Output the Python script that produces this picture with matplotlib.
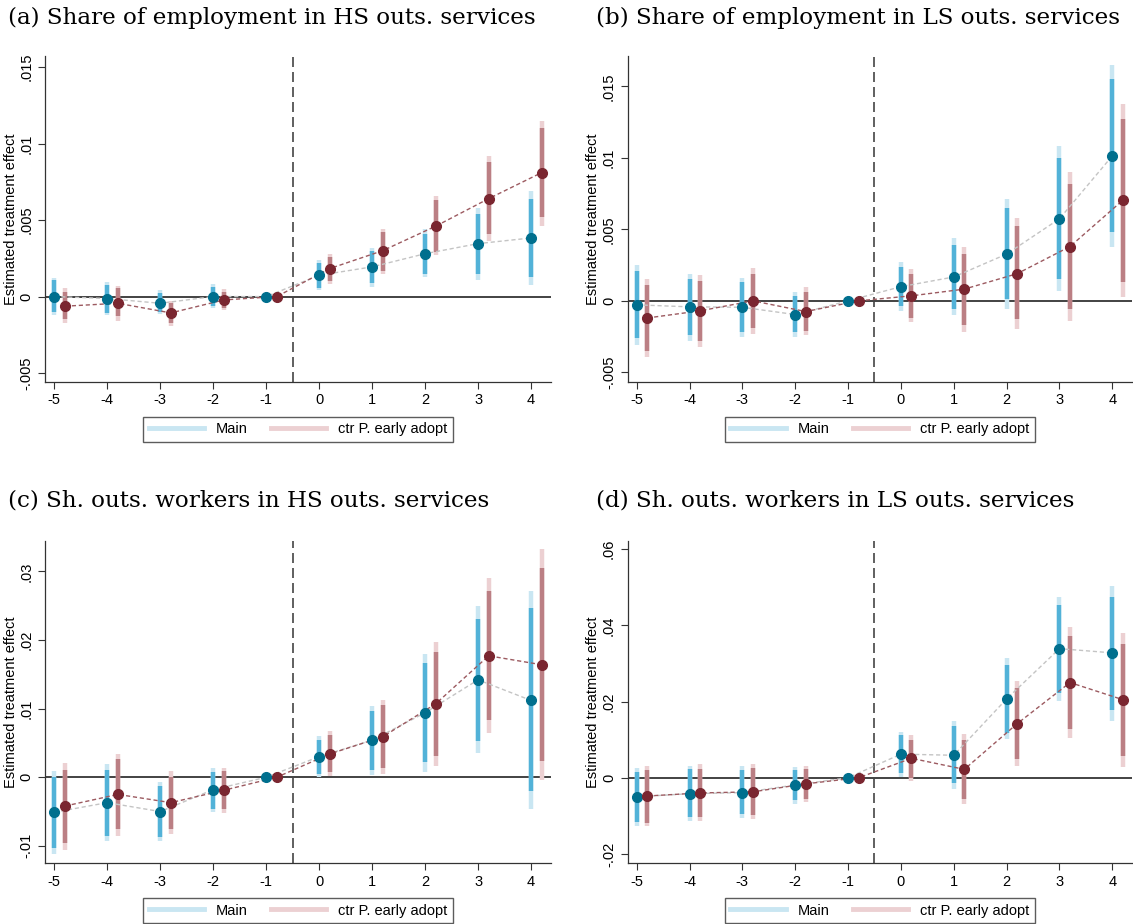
import matplotlib
matplotlib.use('Agg')
import matplotlib.pyplot as plt
from matplotlib.lines import Line2D

periods = [-5, -4, -3, -2, -1, 0, 1, 2, 3, 4]
xtick_labels = ['-5', '-4', '-3', '-2', '-1', '0', '1', '2', '3', '4']

titles = ['(a) Share of employment in HS outs. services',
          '(b) Share of employment in LS outs. services',
          '(c) Sh. outs. workers in HS outs. services',
          '(d) Sh. outs. workers in LS outs. services']

# panel (a)
a_main = [0.0, -0.00013, -0.00044, 0.0, 0.0, 0.00139, 0.00194, 0.0028, 0.00346, 0.00383]
a_main_in = [(0.00105, -0.00098), (0.00076, -0.00109), (0.0002, -0.001), (0.00065, -0.0006), (0, 0),
             (0.0022, 0.00054), (0.003, 0.00087), (0.0041, 0.0015), (0.0054, 0.0015), (0.0064, 0.0013)]
a_main_out = [(0.00124, -0.0012), (0.00096, -0.00122), (0.0004, -0.00113), (0.00083, -0.00076), (0, 0),
              (0.0024, 0.00044), (0.0032, 0.00065), (0.0044, 0.00126), (0.0058, 0.0011), (0.0069, 0.00076)]
a_ctr = [-0.00063, -0.00044, -0.00107, -0.00022, 0.0, 0.00183, 0.003, 0.0046, 0.0064, 0.0081]
a_ctr_in = [(0.00033, -0.0015), (0.00054, -0.0013), (-0.00044, -0.00174), (0.00033, -0.00076), (0, 0),
            (0.0026, 0.001), (0.0042, 0.0017), (0.0063, 0.0029), (0.0088, 0.0041), (0.011, 0.0052)]
a_ctr_out = [(0.00054, -0.00176), (0.0007, -0.0016), (-0.00026, -0.0019), (0.00048, -0.0009), (0, 0),
             (0.0028, 0.0008), (0.0044, 0.0015), (0.0066, 0.0027), (0.0092, 0.0036), (0.0115, 0.0046)]

# panel (b)
b_main = [-0.00028, -0.00042, -0.00045, -0.00096, 0.0, 0.00099, 0.00167, 0.00327, 0.00574, 0.01014]
b_main_in = [(0.0021, -0.0026), (0.0015, -0.0024), (0.0013, -0.0022), (0.00035, -0.0022), (0, 0),
             (0.0024, -0.00035), (0.0039, -0.0006), (0.0065, 0.0001), (0.01, 0.0015), (0.0155, 0.0048)]
b_main_out = [(0.0025, -0.0031), (0.0019, -0.0028), (0.0016, -0.0025), (0.0006, -0.0025), (0, 0),
              (0.0027, -0.0007), (0.0044, -0.001), (0.0071, -0.00054), (0.0108, 0.0007), (0.0165, 0.0038)]
b_ctr = [-0.0012, -0.0007, 0.0, -0.00075, 0.0, 0.00035, 0.00082, 0.0019, 0.0038, 0.00704]
b_ctr_in = [(0.0011, -0.0035), (0.0014, -0.0028), (0.0019, -0.0019), (0.00064, -0.0021), (0, 0),
            (0.0019, -0.0012), (0.0033, -0.0017), (0.0052, -0.0013), (0.0082, -0.00054), (0.0127, 0.0013)]
b_ctr_out = [(0.0015, -0.0039), (0.0018, -0.0032), (0.0023, -0.0023), (0.00094, -0.0024), (0, 0),
             (0.0022, -0.0015), (0.0038, -0.0022), (0.0058, -0.002), (0.009, -0.0014), (0.0138, 0.0003)]

# panel (c)
c_main = [-0.0051, -0.0037, -0.005, -0.0018, 0.0, 0.003, 0.0054, 0.0094, 0.0142, 0.0112]
c_main_in = [(0.0, -0.0103), (0.0011, -0.0085), (-0.0013, -0.0087), (0.0008, -0.0046), (0, 0),
             (0.0055, 0.0005), (0.0096, 0.0011), (0.0166, 0.0022), (0.0231, 0.0053), (0.0246, -0.002)]
c_main_out = [(0.0009, -0.0112), (0.0019, -0.0093), (-0.0007, -0.0093), (0.0013, -0.0051), (0, 0),
              (0.006, 0.0), (0.0104, 0.0003), (0.0179, 0.0008), (0.0249, 0.0036), (0.0272, -0.0046)]
c_ctr = [-0.0042, -0.0025, -0.0037, -0.0019, 0.0, 0.0034, 0.0059, 0.0107, 0.0177, 0.0164]
c_ctr_in = [(0.0011, -0.0096), (0.0026, -0.0075), (0.0001, -0.0075), (0.0009, -0.0046), (0, 0),
            (0.0061, 0.0008), (0.0105, 0.0014), (0.0183, 0.0031), (0.0272, 0.0083), (0.0305, 0.0023)]
c_ctr_out = [(0.0021, -0.0106), (0.0034, -0.0085), (0.0009, -0.0083), (0.0014, -0.0052), (0, 0),
             (0.0067, 0.0002), (0.0113, 0.0005), (0.0197, 0.0016), (0.029, 0.0065), (0.0333, -0.0004)]

# panel (d)
d_main = [-0.005, -0.0042, -0.0039, -0.0019, 0.0, 0.0062, 0.0059, 0.0207, 0.0339, 0.0328]
d_main_in = [(0.0016, -0.0116), (0.0022, -0.0103), (0.002, -0.0096), (0.002, -0.0059), (0, 0),
             (0.0111, 0.0013), (0.0135, -0.0015), (0.0297, 0.0118), (0.0454, 0.0223), (0.0476, 0.0179)]
d_main_out = [(0.0026, -0.0127), (0.0032, -0.0114), (0.0031, -0.0107), (0.0028, -0.0068), (0, 0),
              (0.0121, 0.0003), (0.015, -0.003), (0.0314, 0.0102), (0.0476, 0.0201), (0.0504, 0.015)]
d_ctr = [-0.0048, -0.004, -0.0037, -0.0016, 0.0, 0.0051, 0.0022, 0.0142, 0.025, 0.0205]
d_ctr_in = [(0.0019, -0.012), (0.0024, -0.0103), (0.0026, -0.0098), (0.0024, -0.0055), (0, 0),
            (0.01, 0.0), (0.0099, -0.0055), (0.0236, 0.0048), (0.0371, 0.0127), (0.0352, 0.0057)]
d_ctr_out = [(0.0031, -0.0128), (0.0035, -0.0114), (0.0037, -0.0109), (0.0032, -0.0064), (0, 0),
             (0.0111, -0.0009), (0.0114, -0.007), (0.0253, 0.0031), (0.0396, 0.0105), (0.038, 0.0029)]

yticks_a = [-0.005, 0, 0.005, 0.01, 0.015]
yticks_c = [-0.01, 0, 0.01, 0.02, 0.03]
yticks_d = [-0.02, 0, 0.02, 0.04, 0.06]
ylabels_a = ['-.005', '0', '.005', '.01', '.015']
ylabels_c = ['-.01', '0', '.01', '.02', '.03']
ylabels_d = ['-.02', '0', '.02', '.04', '.06']

panels = [
    (a_main, a_main_in, a_main_out, a_ctr, a_ctr_in, a_ctr_out, yticks_a, ylabels_a, (-0.00556, 0.0157)),
    (b_main, b_main_in, b_main_out, b_ctr, b_ctr_in, b_ctr_out, yticks_a, ylabels_a, (-0.00565, 0.0171)),
    (c_main, c_main_in, c_main_out, c_ctr, c_ctr_in, c_ctr_out, yticks_c, ylabels_c, (-0.0125, 0.0345)),
    (d_main, d_main_in, d_main_out, d_ctr, d_ctr_in, d_ctr_out, yticks_d, ylabels_d, (-0.0224, 0.0623)),
]

blue_pt = '#006f8e'
blue_in = '#52b2d8'
blue_out = '#c9e6f2'
red_pt = '#7a2630'
red_in = '#bb7f84'
red_out = '#ecd0d2'

plt.rcParams['font.family'] = ['Liberation Sans', 'DejaVu Sans']

fig = plt.figure(figsize=(11.33, 9.24), dpi=100)
positions = [(0.040, 0.587, 0.446, 0.352), (0.554, 0.587, 0.445, 0.352),
             (0.040, 0.066, 0.446, 0.349), (0.554, 0.066, 0.445, 0.349)]
title_xy = [(8, 18), (596, 18), (8, 500), (596, 500)]

for k, (m, m_in, m_out, c, c_in, c_out, yt, yl, ylim) in enumerate(panels):
    ax = fig.add_axes(positions[k])
    xs_m = [p for p in periods]
    xs_c = [p + 0.2 for p in periods]
    for xs, out, inn, col_out, col_in in [(xs_m, m_out, m_in, blue_out, blue_in),
                                          (xs_c, c_out, c_in, red_out, red_in)]:
        for x, (hi, lo) in zip(xs, out):
            ax.plot([x, x], [lo, hi], color=col_out, lw=3.2, solid_capstyle='butt', zorder=2)
        for x, (hi, lo) in zip(xs, inn):
            ax.plot([x, x], [lo, hi], color=col_in, lw=3.2, solid_capstyle='butt', zorder=3)
    ax.plot(xs_m, m, ls=(0, (3, 2)), color='#c4c4c4', lw=1.0, zorder=4)
    ax.plot(xs_c, c, ls=(0, (3, 2)), color='#9c5a60', lw=1.0, zorder=4)
    ax.plot(xs_m, m, 'o', color=blue_pt, ms=7, zorder=5)
    ax.plot(xs_c, c, 'o', color=red_pt, ms=7, zorder=5)
    ax.axhline(0, color='#222222', lw=1.2, zorder=1)
    ax.axvline(-0.5, color='#444444', lw=1.2, ls=(0, (6, 3)), zorder=1)

    ax.set_xlim(-5.17, 4.37)
    ax.set_ylim(*ylim)
    ax.set_xticks(periods)
    ax.set_xticklabels(xtick_labels, fontsize=10.5)
    ax.set_yticks(yt)
    ax.set_yticklabels(yl, fontsize=10.5, rotation=90, va='center')
    ax.tick_params(direction='out', length=5, width=0.8, color='#333333')
    ax.spines['top'].set_visible(False)
    ax.spines['right'].set_visible(False)
    for s in ['left', 'bottom']:
        ax.spines[s].set_color('#333333')
        ax.spines[s].set_linewidth(0.9)
    ax.set_ylabel('Estimated treatment effect', fontsize=10.5, labelpad=1)

    tx, ty = title_xy[k]
    fig.text(tx / 1133, 1 - ty / 924, titles[k], fontsize=16.6, family=['DejaVu Serif'],
             ha='left', va='center')

    handles = [Line2D([], [], color=blue_out, lw=3.5),
               Line2D([], [], color=red_out, lw=3.5)]
    leg = ax.legend(handles, ['Main', 'ctr P. early adopt'], loc='upper center',
                    bbox_to_anchor=(0.5, -0.085), ncol=2, fontsize=10.5, frameon=True,
                    fancybox=False, edgecolor='#333333', handlelength=3.8,
                    columnspacing=1.6, borderpad=0.4, handletextpad=0.8)
    leg.get_frame().set_linewidth(1.0)

fig.savefig('out.png', dpi=100)
